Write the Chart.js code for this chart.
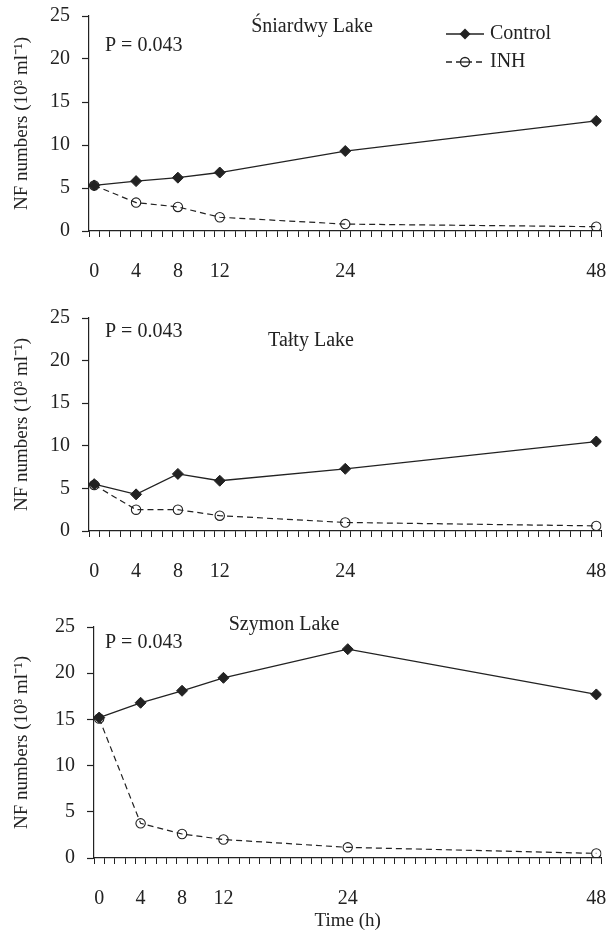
<!DOCTYPE html>
<html>
<head>
<meta charset="utf-8">
<script src="https://cdn.jsdelivr.net/npm/chart.js@4"></script>
<style>
  body { margin: 0; background: #fff; }
  .box { position: absolute; left: 0; width: 608px; }
</style>
</head>
<body>
<div class="box" style="top:0;height:290px"><canvas id="c1" width="608" height="290"></canvas></div>
<div class="box" style="top:290px;height:300px"><canvas id="c2" width="608" height="300"></canvas></div>
<div class="box" style="top:590px;height:343px"><canvas id="c3" width="608" height="343"></canvas></div>
<script>
"use strict";

var hours = [0, 4, 8, 12, 24, 48];
var xTickLabels = [0, 4, 8, 12, 24, 48];
var yTicks = [0, 5, 10, 15, 20, 25];

var sniardwyControl = [5.3, 5.8, 6.2, 6.8, 9.3, 12.8];
var sniardwyInh = [5.3, 3.3, 2.8, 1.6, 0.8, 0.5];
var taltyControl = [5.5, 4.3, 6.7, 5.9, 7.3, 10.5];
var taltyInh = [5.4, 2.5, 2.5, 1.8, 1.0, 0.6];
var szymonControl = [15.2, 16.8, 18.1, 19.5, 22.6, 17.7];
var szymonInh = [15.1, 3.75, 2.6, 2.0, 1.15, 0.5];

var FONT = "'Liberation Serif', 'Times New Roman', serif";
var INK = '#222';

function pairs(xs, ys) {
    return xs.map(function(x, i) { return { x: x, y: ys[i] }; });
}

// no label overhang padding, the plot area is set by hand
function noPad(s) {
    s.paddingLeft = 0; s.paddingRight = 0; s.paddingTop = 0; s.paddingBottom = 0;
}

// text drawn on top of the chart: lake name, P value, legend
var notes = {
    id: 'notes',
    afterDraw: function(chart, args, o) {
        var ctx = chart.ctx;
        ctx.save();
        ctx.fillStyle = INK;
        ctx.font = '20px ' + FONT;
        ctx.textBaseline = 'middle';
        ctx.textAlign = 'center';
        ctx.fillText(o.lake, o.lakeX, o.lakeY);
        ctx.textAlign = 'left';
        ctx.fillText('P = 0.043', 105, o.pY);
        if (o.legend) {
            ctx.strokeStyle = INK;
            ctx.lineWidth = 1.3;
            // Control
            ctx.beginPath(); ctx.moveTo(446, 34); ctx.lineTo(484, 34); ctx.stroke();
            ctx.beginPath();
            ctx.moveTo(465, 28.5); ctx.lineTo(470.5, 34); ctx.lineTo(465, 39.5); ctx.lineTo(459.5, 34);
            ctx.closePath(); ctx.fill();
            ctx.fillText('Control', 490, 34);
            // INH
            ctx.setLineDash([6, 4]);
            ctx.beginPath(); ctx.moveTo(446, 62); ctx.lineTo(484, 62); ctx.stroke();
            ctx.setLineDash([]);
            ctx.fillStyle = '#fff';
            ctx.beginPath(); ctx.arc(465, 62, 4.5, 0, Math.PI * 2); ctx.fill(); ctx.stroke();
            ctx.beginPath(); ctx.moveTo(461, 62); ctx.lineTo(469, 62); ctx.stroke();
            ctx.fillStyle = INK;
            ctx.fillText('INH', 490, 62);
        }
        ctx.restore();
    }
};

function makeChart(id, control, inh, cfg) {
    var ctx = document.getElementById(id).getContext('2d');
    return new Chart(ctx, {
        type: 'line',
        data: {
            datasets: [{
                label: 'Control',
                data: pairs(hours, control),
                borderColor: INK,
                backgroundColor: INK,
                borderWidth: 1.3,
                pointStyle: 'rectRot',
                pointRadius: 5.5,
                pointBorderWidth: 1,
                tension: 0
            }, {
                label: 'INH',
                data: pairs(hours, inh),
                borderColor: INK,
                backgroundColor: 'rgba(0,0,0,0)',
                borderWidth: 1.2,
                borderDash: [6, 4],
                pointStyle: 'circle',
                pointRadius: 4.7,
                pointBorderWidth: 1.1,
                tension: 0
            }]
        },
        plugins: [notes],
        options: {
            responsive: false,
            animation: false,
            events: [],
            layout: { padding: { top: cfg.top, right: 6, left: 0, bottom: 0 } },
            plugins: {
                legend: { display: false },
                tooltip: { enabled: false },
                notes: cfg.notes
            },
            scales: {
                y: {
                    min: 0, max: 25,
                    afterBuildTicks: function(s) { s.ticks = yTicks.map(function(v) { return { value: v }; }); },
                    afterFit: function(s) { s.width = cfg.left; noPad(s); },
                    border: { color: INK, width: 1.2 },
                    grid: { drawOnChartArea: false, tickLength: 7, color: INK, tickWidth: 1.2 },
                    ticks: { color: INK, padding: 12, font: { family: FONT, size: 20 } },
                    title: {
                        display: true,
                        text: 'NF numbers (10\u00B3 ml\u207B\u00B9)',
                        color: INK,
                        font: { family: FONT, size: 19 },
                        padding: { top: 11, bottom: 0 }
                    }
                },
                xm: {
                    type: 'linear',
                    position: 'bottom',
                    weight: 0,
                    min: -0.5, max: 48.5,
                    afterBuildTicks: function(s) {
                        var t = [];
                        for (var v = -0.5; v <= 48.5; v += 1) t.push({ value: v });
                        s.ticks = t;
                    },
                    afterFit: function(s) { s.height = 6; noPad(s); },
                    border: { color: INK, width: 1.2 },
                    grid: { drawOnChartArea: false, tickLength: 6, color: INK, tickWidth: 1 },
                    ticks: { display: false }
                },
                x: {
                    type: 'linear',
                    position: 'bottom',
                    weight: 1,
                    min: -0.5, max: 48.5,
                    afterBuildTicks: function(s) { s.ticks = xTickLabels.map(function(v) { return { value: v }; }); },
                    afterFit: function(s) { s.height = cfg.bottom; noPad(s); },
                    border: { display: false },
                    grid: { display: false, drawTicks: false },
                    ticks: { color: INK, autoSkip: false, maxRotation: 0, padding: 23, font: { family: FONT, size: 20 } },
                    title: {
                        display: !!cfg.xTitle,
                        text: cfg.xTitle || '',
                        color: INK,
                        font: { family: FONT, size: 19 },
                        padding: { top: 0, bottom: 1 }
                    }
                }
            }
        }
    });
}

makeChart('c1', sniardwyControl, sniardwyInh, {
    top: 16, left: 89, bottom: 53,
    notes: { lake: '\u015Aniardwy Lake', lakeX: 312, lakeY: 27, pY: 46, legend: true }
});
makeChart('c2', taltyControl, taltyInh, {
    top: 28, left: 89, bottom: 53,
    notes: { lake: 'Ta\u0142ty Lake', lakeX: 311, lakeY: 51, pY: 42, legend: false }
});
makeChart('c3', szymonControl, szymonInh, {
    top: 37, left: 94, bottom: 69, xTitle: 'Time (h)',
    notes: { lake: 'Szymon Lake', lakeX: 284, lakeY: 35, pY: 53, legend: false }
});
</script>
</body>
</html>
